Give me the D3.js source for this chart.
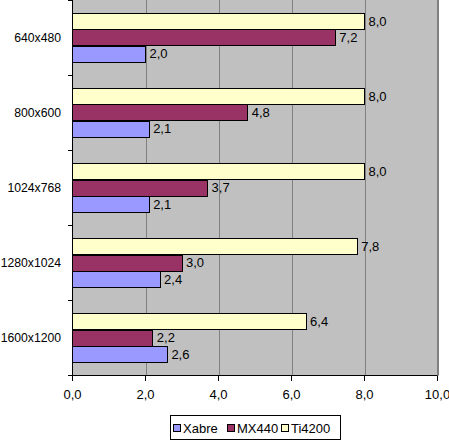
<!DOCTYPE html>
<html><head><meta charset="utf-8">
<script src="https://cdn.jsdelivr.net/npm/d3@7"></script>
<style>body{margin:0;background:#fff}svg{display:block}text{font-family:Arial,"Liberation Sans",sans-serif;font-size:13px;fill:#000}text.cat{font-size:12.2px}</style>
</head><body><svg id="c" width="449" height="443"></svg>
<script>
const categories = ["640x480","800x600","1024x768","1280x1024","1600x1200"];
const seriesNames = ["Xabre","MX440","Ti4200"];
const xabre = [2.0,2.1,2.1,2.4,2.6];
const mx440 = [7.2,4.8,3.7,3.0,2.2];
const ti4200 = [8.0,8.0,8.0,7.8,6.4];
const xTicks = [0,2,4,6,8,10];
const colors = ["#9999FF","#993366","#FFFFCC"];
const values = [xabre, mx440, ti4200];

const svg = d3.select("#c");
const L = 72.5, R = 437.5, T = 0, B = 375.5;
const x = d3.scaleLinear().domain([0,10]).range([L,R]);
const y = d3.scaleBand().domain(categories).range([T,B]).padding(0);
const drawOrder = ["Ti4200","MX440","Xabre"];
const yi = d3.scaleBand().domain(drawOrder).range([0,y.bandwidth()]).paddingInner(0).paddingOuter(0.8);
const fmt = v => d3.format(".1f")(v).replace(".",",");

svg.append("rect").attr("x",L).attr("y",T).attr("width",R-L).attr("height",B-T).attr("fill","#C0C0C0");
svg.append("g").selectAll("line").data(xTicks.slice(1)).join("line")
  .attr("x1",d=>Math.round(x(d))+0.5).attr("x2",d=>Math.round(x(d))+0.5).attr("y1",T).attr("y2",B)
  .attr("stroke","#808080").attr("stroke-width",1);

const rows = [];
categories.forEach((c,i)=>seriesNames.forEach((s,j)=>rows.push({c,s,v:values[j][i],col:colors[j]})));
svg.append("g").selectAll("rect").data(rows).join("rect")
  .attr("x",L).attr("y",d=>Math.round(y(d.c)+yi(d.s))+0.5)
  .attr("width",d=>x(d.v)-L).attr("height",Math.round(yi.bandwidth()))
  .attr("fill",d=>d.col).attr("stroke","#000").attr("stroke-width",1).attr("shape-rendering","crispEdges");
svg.append("g").selectAll("text").data(rows).join("text")
  .attr("x",d=>x(d.v)+4).attr("y",d=>y(d.c)+yi(d.s)+yi.bandwidth()/2+1)
  .attr("dominant-baseline","middle").text(d=>fmt(d.v));

const ax = svg.append("g").attr("shape-rendering","crispEdges");
ax.append("line").attr("x1",L).attr("x2",L).attr("y1",T).attr("y2",B).attr("stroke","#000").attr("stroke-width",1);
ax.append("line").attr("x1",L).attr("x2",R).attr("y1",B).attr("y2",B).attr("stroke","#000");
ax.selectAll(".yt").data(d3.range(categories.length+1)).join("line")
  .attr("x1",L-5).attr("x2",L).attr("y1",i=>T+i*y.step()).attr("y2",i=>T+i*y.step()).attr("stroke","#000");
ax.selectAll(".xt").data(xTicks).join("line")
  .attr("x1",d=>x(d)).attr("x2",d=>x(d)).attr("y1",B).attr("y2",B+5).attr("stroke","#000");
svg.append("g").selectAll("text").data(categories).join("text").attr("class","cat")
  .attr("x",61).attr("y",d=>y(d)+y.bandwidth()/2+1).attr("text-anchor","end").attr("dominant-baseline","middle").text(d=>d);
svg.append("g").selectAll("text").data(xTicks).join("text")
  .attr("x",d=>x(d)).attr("y",399).attr("text-anchor","middle").text(d=>fmt(d));
svg.append("line").attr("x1",R).attr("x2",R).attr("y1",T).attr("y2",B).attr("stroke","#808080");

const lg = svg.append("g");
lg.append("rect").attr("x",170.5).attr("y",415.5).attr("width",170).attr("height",24).attr("fill","#fff").attr("stroke","#000");
const lx = [173,227,281];
seriesNames.forEach((s,j)=>{
  lg.append("rect").attr("x",lx[j]+0.5).attr("y",424.5).attr("width",7).attr("height",7).attr("fill",colors[j]).attr("stroke","#000");
  lg.append("text").attr("x",lx[j]+10).attr("y",432.5).text(s);
});
</script></body></html>
